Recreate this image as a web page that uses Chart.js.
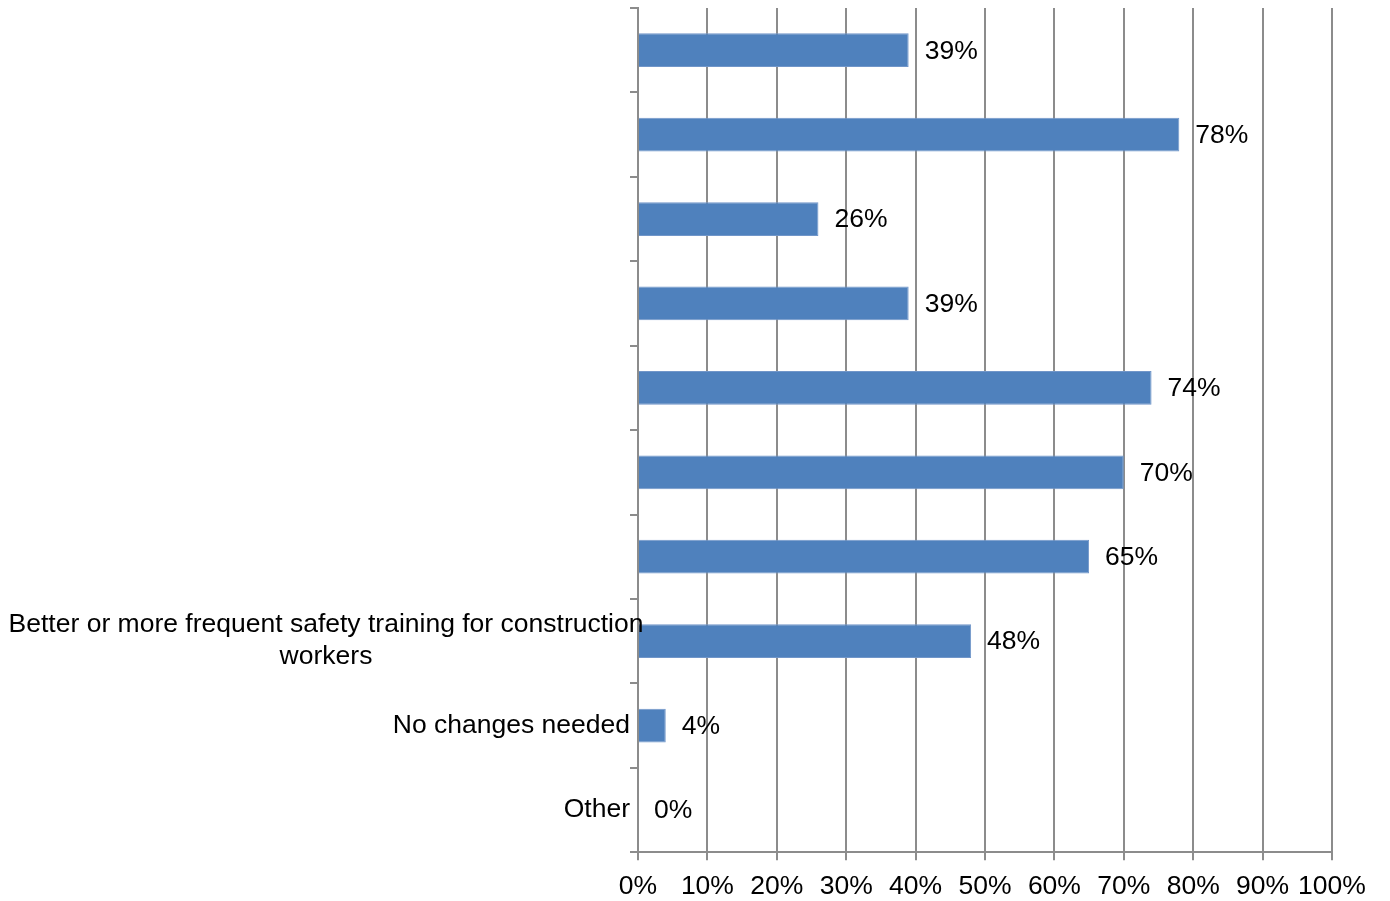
<html>

<head>
    <title>Safety changes</title>
    <meta name="viewport" content="width=device-width, initial-scale=1">
    <script src="https://cdn.jsdelivr.net/npm/chart.js"></script>
    <style>
        body {
            margin: 0;
            background: #fff;
        }

        .chart-box {
            width: 1390px;
            height: 901px;
        }
    </style>
</head>

<body>
    <div class="chart-box">
        <canvas id="barChart"></canvas>
    </div>
</body>
<script>
    // categories top to bottom; the first seven have no visible label in the picture
    const categories = [
        '', '', '', '', '', '', '',
        ['Better or more frequent safety training for construction', 'workers'],
        'No changes needed',
        'Other'
    ]
    const percentages = [39, 78, 26, 39, 74, 70, 65, 48, 4, 0]
    const xTicks = [0, 10, 20, 30, 40, 50, 60, 70, 80, 90, 100]

    const fontFamily = '"Liberation Sans", Arial, sans-serif'
    const fontSize = 26.5
    const gridGray = '#8c8c8c'

    // value labels just right of each bar end
    const valueLabels = {
        id: 'valueLabels',
        afterDatasetsDraw(chart) {
            const ctx = chart.ctx
            const meta = chart.getDatasetMeta(0)
            ctx.save()
            ctx.font = fontSize + 'px ' + fontFamily
            ctx.fillStyle = '#000'
            ctx.textAlign = 'left'
            ctx.textBaseline = 'middle'
            meta.data.forEach((bar, i) => {
                ctx.fillText(percentages[i] + '%', bar.x + 16, bar.y + 1)
            })
            ctx.restore()
        }
    }

    // category labels: single lines sit against the axis, wrapped ones are centred
    const categoryLabels = {
        id: 'categoryLabels',
        afterDraw(chart) {
            const ctx = chart.ctx
            const yScale = chart.scales.y
            const axisX = chart.chartArea.left
            ctx.save()
            ctx.font = fontSize + 'px ' + fontFamily
            ctx.fillStyle = '#000'
            ctx.textBaseline = 'middle'
            categories.forEach((label, i) => {
                const y = yScale.getPixelForValue(i)
                if (Array.isArray(label)) {
                    ctx.textAlign = 'center'
                    const lineHeight = 32
                    const startY = y - (label.length - 1) * lineHeight / 2
                    label.forEach((line, j) => {
                        ctx.fillText(line, axisX - 312, startY + j * lineHeight)
                    })
                } else if (label) {
                    ctx.textAlign = 'right'
                    ctx.fillText(label, axisX - 8, y)
                }
            })
            ctx.restore()
        }
    }

    const ctx = document.getElementById('barChart').getContext('2d')
    const barChart = new Chart(ctx, {
        type: 'bar',
        data: {
            labels: categories,
            datasets: [{
                label: 'share',
                data: percentages,
                backgroundColor: '#4f81bd',
                borderColor: '#7196c9',
                borderWidth: 1,
                barPercentage: 0.4,
                categoryPercentage: 1
            }]
        },
        plugins: [valueLabels, categoryLabels],
        options: {
            indexAxis: 'y',
            responsive: true,
            maintainAspectRatio: false,
            animation: false,
            layout: {
                padding: { left: 630, right: 58, top: 8, bottom: -13 }
            },
            plugins: {
                legend: { display: false },
                tooltip: { enabled: false }
            },
            scales: {
                x: {
                    min: 0,
                    max: 100,
                    afterBuildTicks: (scale) => {
                        scale.ticks = xTicks.map(v => ({ value: v }))
                    },
                    grid: {
                        color: gridGray,
                        lineWidth: 2,
                        tickLength: 8
                    },
                    border: { color: gridGray, width: 2 },
                    ticks: {
                        color: '#000',
                        font: { family: fontFamily, size: fontSize },
                        padding: 11,
                        autoSkip: false,
                        maxRotation: 0,
                        callback: (v) => v + '%'
                    }
                },
                y: {
                    grid: {
                        drawOnChartArea: false,
                        color: gridGray,
                        lineWidth: 2,
                        tickLength: 8,
                        offset: true
                    },
                    border: { color: gridGray, width: 2 },
                    ticks: { display: false }
                }
            }
        }
    })
</script>
</html>
